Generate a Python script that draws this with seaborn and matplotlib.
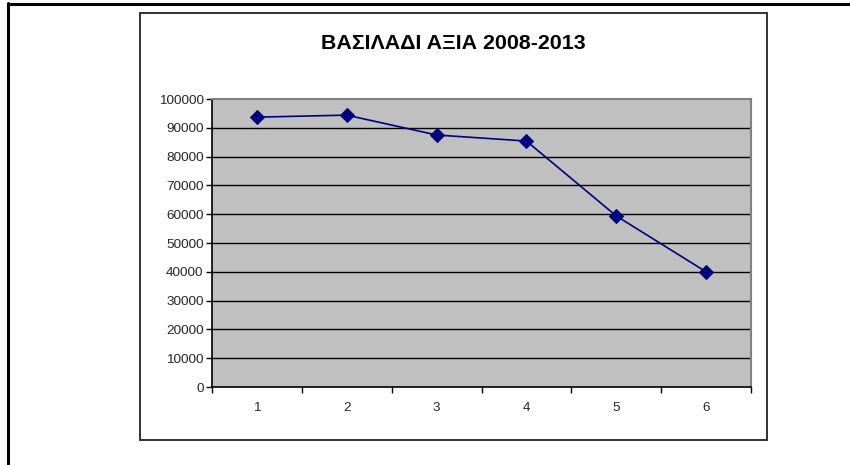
import numpy as np
import pandas as pd
import matplotlib
matplotlib.use('Agg')
import matplotlib.pyplot as plt
import seaborn as sns
from matplotlib.lines import Line2D
from matplotlib.patches import Rectangle

# data
periods = [1, 2, 3, 4, 5, 6]
values = [93700, 94400, 87500, 85400, 59400, 40000]
title = 'ΒΑΣΙΛΑΔΙ ΑΞΙΑ 2008-2013'

ds = pd.DataFrame({'period': periods, 'value': values})

sns.set_theme(style='white')
plt.rcParams['font.family'] = ['Liberation Sans', 'DejaVu Sans']

W, H = 850, 465
fig = plt.figure(figsize=(8.5, 4.65), dpi=100)

# outer frame (left and top edges only visible)
fig.add_artist(Line2D([8 / W, 8 / W], [0, 1 - 3 / H], color='black', lw=2.2))
fig.add_artist(Line2D([8 / W, 1], [1 - 4 / H, 1 - 4 / H], color='black', lw=2.2))

# chart area box
fig.add_artist(Rectangle((140 / W, 1 - 440 / H), (767 - 140) / W, (440 - 13) / H,
                         fill=False, edgecolor='#222222', lw=1.3))

ax = fig.add_axes([212 / W, 1 - 387 / H, (751 - 212) / W, (387 - 99) / H])
ax.set_facecolor('#C0C0C0')

sns.lineplot(data=ds, x='period', y='value', ax=ax, color='#000080', lw=1.2,
             marker='D', markersize=7, markeredgecolor='#000080')

ax.set_xlim(0.5, 6.5)
ax.set_ylim(0, 100000)
ax.set_yticks(np.arange(0, 100001, 10000))
ax.set_xticks(periods)
ax.set_xticks(np.arange(0.5, 6.6, 1), minor=True)
ax.set_xlabel('')
ax.set_ylabel('')

for yv in range(10000, 100000, 10000):
    ax.axhline(yv, color='black', lw=1.0, zorder=1)

ax.tick_params(axis='y', which='major', direction='out', length=4, width=1,
               color='black', labelsize=9.7, pad=2, left=True)
ax.tick_params(axis='x', which='major', length=0, labelsize=9.7, pad=11)
ax.tick_params(axis='x', which='minor', direction='out', length=4, width=1,
               color='black', bottom=True)

for s in ['left', 'bottom']:
    ax.spines[s].set_color('black')
    ax.spines[s].set_linewidth(1.2)
for s in ['top', 'right']:
    ax.spines[s].set_color('#808080')
    ax.spines[s].set_linewidth(1.5)

fig.text(453 / W, 1 - 43 / H, title, ha='center', va='center',
         fontsize=15.4, fontweight='bold', color='black')

fig.savefig('out.png', dpi=100)
